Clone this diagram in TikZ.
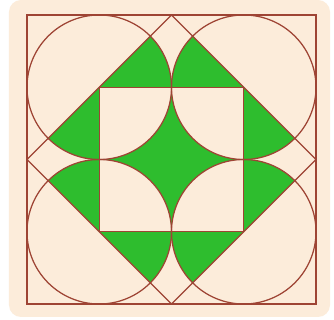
\documentclass[tikz,border=0pt]{standalone}
\usetikzlibrary{calc}
\definecolor{cream}{RGB}{252,236,218}
\definecolor{leaf}{RGB}{46,189,46}
\definecolor{redline}{RGB}{158,68,52}
\begin{document}
\begin{tikzpicture}[x=1pt,y=1pt,
  lineart/.style={draw=redline,line width=1.25pt},
  greenfill/.style={fill=leaf}]
\useasboundingbox (-171.5,-160.5) rectangle (162.5,159.5);
\fill[white] (-171.5,-160.5) rectangle (162.5,159.5);
\fill[cream,rounded corners=12pt] (-162.5,-157.5) rectangle (158.5,159.5);
\def\q{72.25}
\def\h{144.5}
% green star
\fill[greenfill] (0,\q) arc[start angle=180,end angle=270,radius=\q]
  arc[start angle=90,end angle=180,radius=\q]
  arc[start angle=0,end angle=90,radius=\q]
  arc[start angle=270,end angle=360,radius=\q] -- cycle;
% green sectors
\foreach \cx/\cy/\a/\b in {-1/1/0/45, -1/1/225/270, 1/1/135/180, 1/1/270/315,
  -1/-1/90/135, -1/-1/315/360, 1/-1/45/90, 1/-1/180/225}{
  \fill[greenfill] (\cx*\q,\cy*\q) -- ++(\a:\q) arc[start angle=\a,end angle=\b,radius=\q] -- cycle;
}
% lines
\coordinate (o1) at (-\h,-\h);
\coordinate (o2) at (\h,\h);
\draw[lineart] (o1) rectangle (o2);
\coordinate (tl) at (-\q,\q);
\coordinate (tr) at (\q,\q);
\coordinate (bl) at (-\q,-\q);
\coordinate (br) at (\q,-\q);
\foreach \c in {tl,tr,bl,br}{\draw[lineart] (\c) circle[radius=\q];}
\coordinate (dt) at (0,\h);
\coordinate (dr) at (\h,0);
\coordinate (db) at (0,-\h);
\coordinate (dl) at (-\h,0);
\draw[lineart] (dt) -- (dr) -- (db) -- (dl) -- cycle;
\draw[lineart] (bl) rectangle (tr);
\end{tikzpicture}
\end{document}
